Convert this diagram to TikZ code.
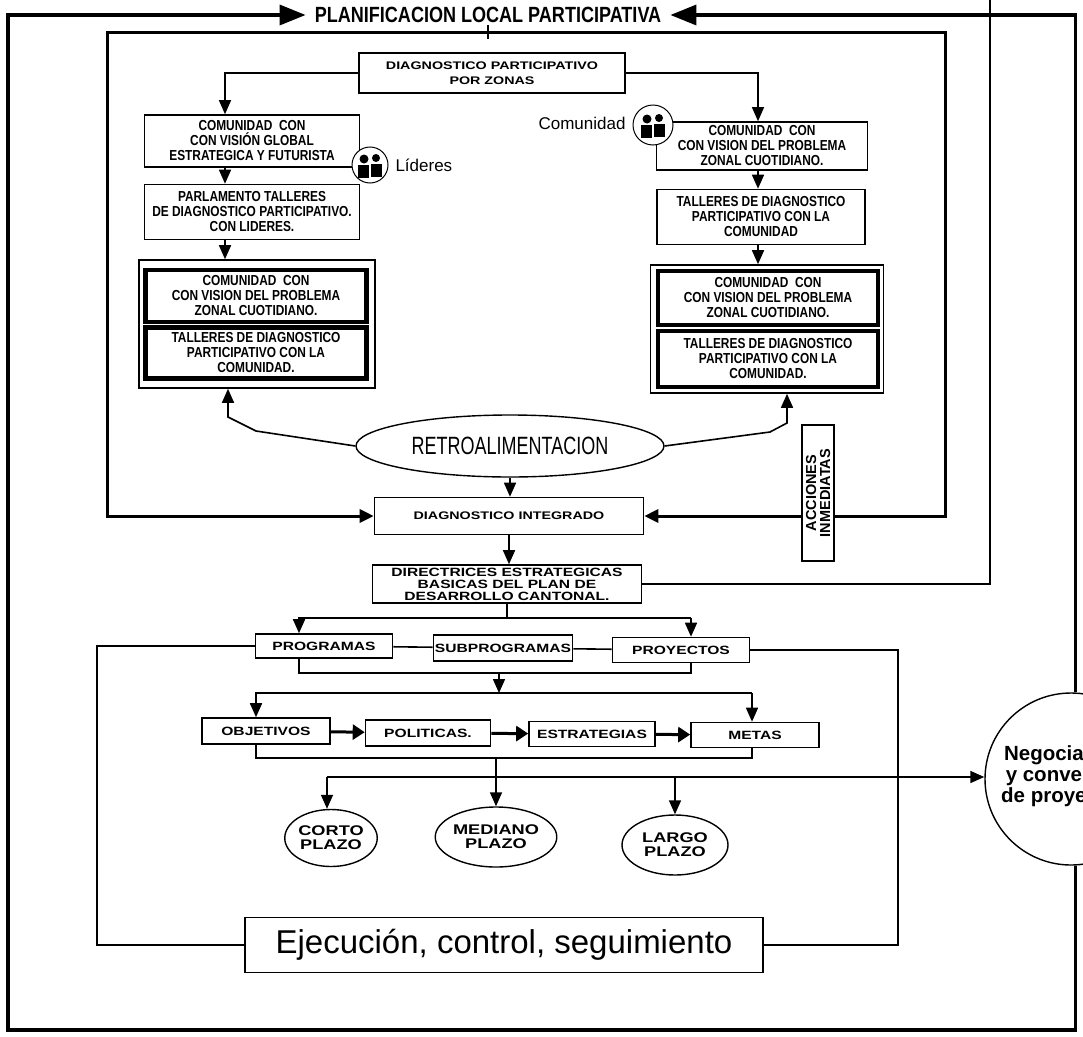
\documentclass[tikz,border=0pt]{standalone}
\usepackage{fontspec}
\setmainfont{Liberation Sans}
\newfontfamily\boxfont{Liberation Sans}[FakeStretch=0.82]
\newfontfamily\widefont{Liberation Sans}[FakeStretch=1.3]
\newfontfamily\narrowfont{Liberation Sans}[FakeStretch=0.72]
\usepackage{tikz}
\usetikzlibrary{arrows.meta,shapes.geometric}

\begin{document}
\begin{tikzpicture}[x=1pt, y=-1pt,
    box/.style={draw, line width=1.6pt, fill=white, align=center, inner sep=0pt,
        font=\boxfont\bfseries\fontsize{14.5}{15}\selectfont},
    thickbox/.style={box, line width=4.5pt},
    smallbox/.style={box, font=\widefont\bfseries\fontsize{12}{12}\selectfont},
    plazo/.style={ellipse, draw, line width=1.4pt, fill=white, align=center, inner sep=0pt,
        font=\widefont\bfseries\fontsize{14}{14}\selectfont},
    icon/.style={circle, draw, line width=1pt, fill=white, inner sep=0pt},
    wire/.style={line width=1.6pt},
    branch/.style={line width=1.2pt},
    outerline/.style={line width=3.5pt},
    innerline/.style={line width=3pt},
    arr/.style={-{Triangle[length=14pt,width=12pt]}},
    bigarr/.style={-{Triangle[length=26pt,width=20pt]}},
    fatarr/.style={line width=3pt, -{Triangle[length=12pt,width=15pt]}}]
    \useasboundingbox (0,0) rectangle (1083,1036);
    \clip (0,0) rectangle (1083,1036);
    % Title
    \node[font=\boxfont\bfseries\fontsize{22}{22}\selectfont, inner xsep=9pt, inner ysep=2pt] (plan) at (488,15) {PLANIFICACION LOCAL PARTICIPATIVA};
    % Diagnosis by zones
    \node[box, minimum width=266pt, minimum height=40pt, font=\widefont\bfseries\fontsize{11}{15}\selectfont] (zonas) at (492,73) {DIAGNOSTICO PARTICIPATIVO\\POR ZONAS};
    % Leaders column
    \node[box, minimum width=215pt, minimum height=52pt] (lglobal) at (252,141) {COMUNIDAD\ \ CON\\CON VISIÓN GLOBAL\\ESTRATEGICA Y FUTURISTA};
    \node[box, minimum width=215pt, minimum height=55pt] (lparl) at (252,212) {PARLAMENTO TALLERES\\DE DIAGNOSTICO PARTICIPATIVO.\\CON LIDERES.};
    \node[draw, line width=1.6pt, minimum width=236pt, minimum height=128pt] (lbig) at (257,324) {};
    \node[thickbox, minimum width=221pt, minimum height=52pt] (lzonal) at (256,296) {COMUNIDAD\ \ CON\\CON VISION DEL PROBLEMA\\ZONAL CUOTIDIANO.};
    \node[thickbox, minimum width=221pt, minimum height=51pt] (ltaller) at (256,353) {TALLERES DE DIAGNOSTICO\\PARTICIPATIVO CON LA\\COMUNIDAD.};
    % Community column
    \node[box, minimum width=211pt, minimum height=48pt] (rcom) at (762,146) {COMUNIDAD\ \ CON\\CON VISION DEL PROBLEMA\\ZONAL CUOTIDIANO.};
    \node[box, minimum width=208pt, minimum height=55pt] (rtaller) at (761,217) {TALLERES DE DIAGNOSTICO\\PARTICIPATIVO CON LA\\COMUNIDAD};
    \node[draw, line width=1.6pt, minimum width=233pt, minimum height=128pt] (rbig) at (767,329) {};
    \node[thickbox, minimum width=220pt, minimum height=54pt] (rzonal) at (768,298) {COMUNIDAD\ \ CON\\CON VISION DEL PROBLEMA\\ZONAL CUOTIDIANO.};
    \node[thickbox, minimum width=220pt, minimum height=56pt] (rtaller2) at (768,359) {TALLERES DE DIAGNOSTICO\\PARTICIPATIVO CON LA\\COMUNIDAD.};
    % Icons
    \node[icon, minimum size=36pt] (lid) at (370,165) {};
    \node[anchor=west, font=\fontsize{17}{18}\selectfont] (lidtxt) at (392,165) {Líderes};
    \node[icon, minimum size=40pt] (com) at (653,125) {};
    \node[anchor=east, font=\fontsize{17}{18}\selectfont] (comtxt) at (629,123) {Comunidad};
    \foreach \who in {lid,com} {
        \fill ([shift={(-6,-6)}]\who) circle (4.5);
        \fill ([shift={(6,-7)}]\who) circle (4);
        \fill ([shift={(-12,0)}]\who) rectangle ([shift={(-1,13)}]\who);
        \fill ([shift={(1,-1)}]\who) rectangle ([shift={(12,12)}]\who);
    }
    % Feedback
    \node[ellipse, draw, line width=1.4pt, fill=white, minimum width=308pt, minimum height=62pt, inner sep=0pt, font=\narrowfont\fontsize{25}{27}\selectfont] (retro) at (510,446) {RETROALIMENTACION};
    % Integrated diagnosis
    \node[box, minimum width=269pt, minimum height=37pt, font=\widefont\bfseries\fontsize{11}{12}\selectfont] (integ) at (509,516) {DIAGNOSTICO INTEGRADO};
    \draw[innerline, {Triangle[length=14pt,width=13pt]}-{Triangle[length=14pt,width=13pt]}] (integ.west) -| (107,32) -- (945,32) |- (integ.east);
    \node[draw, line width=1.6pt, fill=white, rotate=90, minimum width=136pt, minimum height=32pt, inner sep=0pt, align=center, font=\bfseries\fontsize{14.5}{14}\selectfont] (accion) at (818,493) {ACCIONES\\INMEDIATAS};
    \node[box, minimum width=269pt, minimum height=38pt, font=\widefont\bfseries\fontsize{12}{12}\selectfont] (direct) at (507,584) {DIRECTRICES ESTRATEGICAS\\BASICAS DEL PLAN DE\\DESARROLLO CANTONAL.};
    % Programs
    \node[smallbox, minimum width=137pt, minimum height=24pt] (prog) at (324,646) {PROGRAMAS};
    \node[smallbox, minimum width=139pt, minimum height=26pt] (subprog) at (503,648) {SUBPROGRAMAS};
    \node[smallbox, minimum width=137pt, minimum height=25pt] (proy) at (681,650) {PROYECTOS};
    % Plan elements
    \node[smallbox, minimum width=128pt, minimum height=26pt] (obj) at (266,731) {OBJETIVOS};
    \node[smallbox, minimum width=125pt, minimum height=26pt] (pol) at (428,733) {POLITICAS.};
    \node[smallbox, minimum width=126pt, minimum height=25pt] (estr) at (592,734) {ESTRATEGIAS};
    \node[smallbox, minimum width=128pt, minimum height=25pt] (metas) at (755,735) {METAS};
    % Terms
    \node[plazo, minimum width=92pt, minimum height=57pt] (corto) at (331,838) {CORTO\\PLAZO};
    \node[plazo, minimum width=106pt, minimum height=60pt] (mediano) at (496,837) {MEDIANO\\PLAZO};
    \node[plazo, minimum width=106pt, minimum height=60pt] (largo) at (675,845) {LARGO\\PLAZO};
    % Negotiation
    \node[circle, draw, line width=1.4pt, fill=white, minimum size=172pt, inner sep=0pt] (neg) at (1071,779) {};
    \node[align=center, font=\bfseries\fontsize{20.5}{21}\selectfont] (negtxt) at (1065,776) {Negociación\\y convenios\\de proyectos};
    % Execution
    \node[box, minimum width=518pt, minimum height=55pt, font=\fontsize{33}{36}\selectfont] (ejec) at (504,945) {Ejecución, control, seguimiento};
    % Edges
    % Outer loop back to the title
    \draw[outerline, bigarr] (neg.87) |- (plan.east);
    \draw[outerline, bigarr] (neg.-87) |- (8,1030) |- (plan.west);
    \draw[wire] (plan.south) -- ++(0,14);
    % Zones to both columns
    \coordinate (lcol) at (225,0);
    \coordinate (rcol) at (758,0);
    \draw[branch, arr] (zonas.west) -| (lcol |- lglobal.north);
    \draw[branch, arr] (zonas.east) -| (rcol |- rcom.north);
    \draw[wire, arr] (lcol |- lglobal.south) -- (lcol |- lparl.north);
    \draw[wire, arr] (lcol |- lparl.south) -- (lcol |- lbig.north);
    \draw[wire, arr] (rcol |- rcom.south) -- (rcol |- rtaller.north);
    \draw[wire, arr] (rcol |- rtaller.south) -- (rcol |- rbig.north);
    % Feedback to both columns
    \coordinate (lback) at (228,417);
    \coordinate (rback) at (787,423);
    \draw[wire, arr] (retro.west) -- (256,431) -- (lback) -- (lback |- lbig.south);
    \draw[wire, arr] (retro.east) -- (770,432) -- (rback) -- (rback |- rbig.south);
    % Down the middle
    \draw[wire, arr] (retro.south) -- (retro.south |- integ.north);
    \draw[wire, arr] (integ.south) -- (integ.south |- direct.north);
    \draw[wire] (direct.east) -| (990,-5);
    % Split into programs
    \coordinate (pl) at (299,618);
    \coordinate (pr) at (691,618);
    \draw[wire] (direct.south) -- (direct.south |- pl);
    \draw[wire, arr] (pr) -- (pl) -- (pl |- prog.north);
    \draw[wire, arr] (pr) -- (pr |- proy.north);
    \draw[wire] (prog) -- (subprog);
    \draw[wire] (subprog) -- (proy);
    \coordinate (jl) at (299,673);
    \coordinate (jr) at (691,673);
    \coordinate (jm) at (499,673);
    \coordinate (ol) at (256,693);
    \coordinate (or) at (752,693);
    \draw[wire] (jl |- prog.south) -- (jl) -- (jr) -- (jr |- proy.south);
    \draw[wire, arr] (jm) -- (jm |- ol);
    \draw[wire, arr] (or) -- (ol) -- (ol |- obj.north);
    \draw[wire, arr] (or) -- (or |- metas.north);
    % Plan chain
    \draw[fatarr] (obj) -- (pol);
    \draw[fatarr] (pol) -- (estr);
    \draw[fatarr] (estr) -- (metas);
    % Terms
    \coordinate (kl) at (256,758);
    \coordinate (kr) at (752,758);
    \coordinate (hl) at (327,777);
    \draw[wire] (kl |- obj.south) -- (kl) -- (kr) -- (kr |- metas.south);
    \draw[wire, arr] (mediano.north |- kl) -- (mediano.north);
    \draw[wire, arr] (hl) -- (hl -| neg.west);
    \draw[wire, arr] (hl) -- (hl |- corto.north);
    \draw[wire, arr] (largo.north |- hl) -- (largo.north);
    % Execution loop
    \coordinate (el) at (97,0);
    \coordinate (er) at (898,0);
    \draw[wire] (prog.west) -| (el |- ejec.west) -- (ejec.west);
    \draw[wire] (proy.east) -| (er |- ejec.east) -- (ejec.east);
\end{tikzpicture}
\end{document}
